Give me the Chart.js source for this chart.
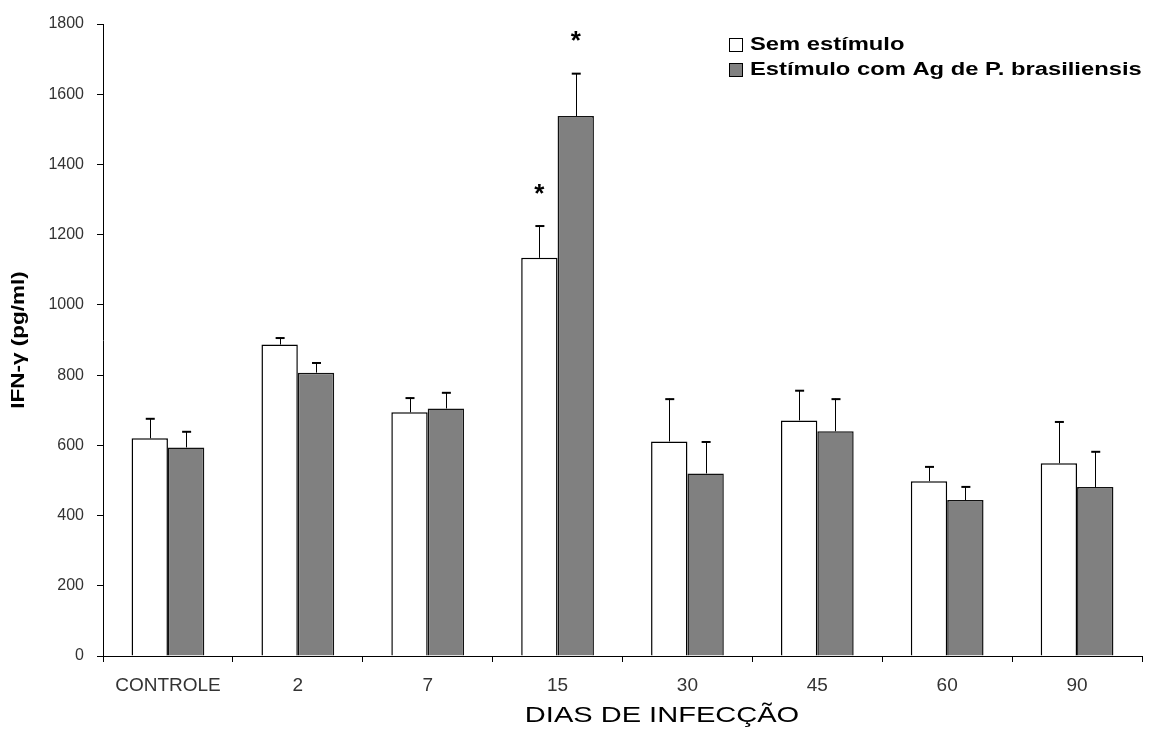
<!DOCTYPE html>
<html>
<head>
<meta charset="utf-8">
<script src="https://cdn.jsdelivr.net/npm/chart.js@4"></script>
<style>
  html, body { margin: 0; padding: 0; background: #fff; }
  #wrap { width: 1157px; height: 731px; }
</style>
</head>
<body>
<div id="wrap"><canvas id="chart" width="1157" height="731"></canvas></div>
<script>
  var categories = ["CONTROLE", "2", "7", "15", "30", "45", "60", "90"];
  var semEstimulo = [620, 887, 694, 1134, 611, 671, 498, 549];
  var semEstimuloErr = [57, 20, 42, 92, 122, 86, 42, 119];
  var comAg = [594, 807, 705, 1538, 520, 640, 444, 481];
  var comAgErr = [46, 29, 46, 122, 91, 93, 39, 102];
  var significant = ["15"];
  var legendLabels = ["Sem estímulo", "Estímulo com Ag de P. brasiliensis"];
  var xTitle = "DIAS DE INFECÇÃO";
  var yTitle = "IFN-γ (pg/ml)";

  var errors = [semEstimuloErr, comAgErr];
  var FONT = "'Liberation Sans', Arial, sans-serif";

  // upper error bars and asterisks drawn from scale positions
  var errorBars = {
    id: "errorBars",
    afterDatasetsDraw: function (chart) {
      var ctx = chart.ctx;
      var y = chart.scales.y;
      ctx.save();
      chart.data.datasets.forEach(function (ds, di) {
        var meta = chart.getDatasetMeta(di);
        meta.data.forEach(function (bar, i) {
          var top = y.getPixelForValue(ds.data[i] + errors[di][i]);
          ctx.strokeStyle = "#000";
          ctx.lineWidth = 1;
          ctx.beginPath();
          ctx.moveTo(Math.round(bar.x) + 0.5, bar.y);
          ctx.lineTo(Math.round(bar.x) + 0.5, top);
          ctx.stroke();
          ctx.lineWidth = 2;
          ctx.beginPath();
          ctx.moveTo(bar.x - 4, top + 0.5);
          ctx.lineTo(bar.x + 5, top + 0.5);
          ctx.stroke();
          if (significant.indexOf(categories[i]) >= 0) {
            ctx.fillStyle = "#000";
            ctx.font = "bold 26px " + FONT;
            ctx.textAlign = "center";
            ctx.textBaseline = "middle";
            ctx.fillText("*", bar.x, top - 31);
          }
        });
      });
      ctx.restore();
    }
  };

  // legend and axis titles, text stretched sideways like the original
  var textLayer = {
    id: "textLayer",
    afterDraw: function (chart) {
      var ctx = chart.ctx;
      var area = chart.chartArea;
      var sx = 1.32;
      ctx.save();
      ctx.textBaseline = "middle";
      ctx.font = "bold 18px " + FONT;
      chart.data.datasets.forEach(function (ds, i) {
        var ly = 45 + i * 25;
        ctx.fillStyle = ds.backgroundColor;
        ctx.fillRect(729, ly - 7, 14, 14);
        ctx.strokeStyle = "#000";
        ctx.lineWidth = 1;
        ctx.strokeRect(729.5, ly - 6.5, 13, 13);
        ctx.fillStyle = "#000";
        ctx.save();
        ctx.translate(750, ly);
        ctx.scale(sx, 1);
        ctx.textAlign = "left";
        ctx.fillText(legendLabels[i], 0, 0);
        ctx.restore();
      });

      ctx.fillStyle = "#000";
      ctx.font = "22px " + FONT;
      ctx.save();
      ctx.translate(662, 716);
      ctx.scale(sx, 1);
      ctx.textAlign = "center";
      ctx.fillText(xTitle, 0, 0);
      ctx.restore();

      ctx.font = "bold 18px " + FONT;
      ctx.save();
      ctx.translate(19, (area.top + area.bottom) / 2);
      ctx.rotate(-Math.PI / 2);
      ctx.scale(1.25, 1);
      ctx.textAlign = "center";
      ctx.fillText(yTitle, 0, 0);
      ctx.restore();
      ctx.restore();
    }
  };

  new Chart(document.getElementById("chart"), {
    type: "bar",
    data: {
      labels: categories,
      datasets: [
        {
          label: legendLabels[0],
          data: semEstimulo,
          backgroundColor: "#ffffff",
          borderColor: "#000",
          borderWidth: 1.5
        },
        {
          label: legendLabels[1],
          data: comAg,
          backgroundColor: "#808080",
          borderColor: "#111",
          borderWidth: 1.5
        }
      ]
    },
    options: {
      responsive: false,
      animation: false,
      devicePixelRatio: 1,
      layout: { padding: { top: 24, right: 15, left: 0, bottom: 0 } },
      datasets: { bar: { categoryPercentage: 0.56, barPercentage: 1.0 } },
      plugins: {
        legend: { display: false },
        tooltip: { enabled: false }
      },
      scales: {
        x: {
          grid: { display: true, drawOnChartArea: false, color: "#000", tickLength: 6, offset: true },
          border: { color: "#000", width: 1 },
          ticks: { color: "#333", font: { family: FONT, size: 19 }, padding: 12 },
          afterFit: function (scale) { scale.height = 75; }
        },
        y: {
          min: 0,
          max: 1800,
          ticks: {
            stepSize: 200,
            color: "#333",
            font: { family: FONT, size: 16 },
            padding: 13,
            callback: function (v) { return String(v); }
          },
          grid: { display: true, drawOnChartArea: false, color: "#000", tickLength: 6 },
          border: { color: "#000", width: 1 },
          afterFit: function (scale) { scale.width = 103; }
        }
      }
    },
    plugins: [errorBars, textLayer]
  });
</script>
</body>
</html>
